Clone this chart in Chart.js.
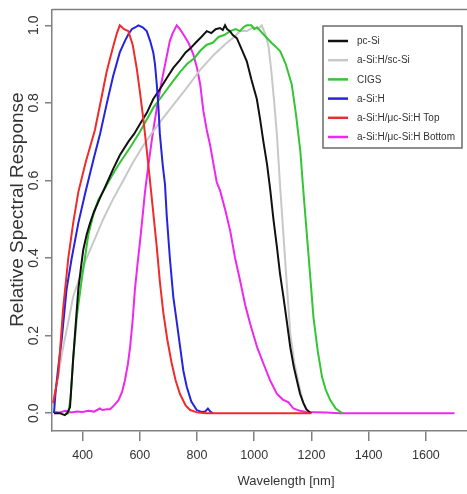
<!DOCTYPE html>
<html>
<head>
<meta charset="utf-8">
<script src="https://cdn.jsdelivr.net/npm/chart.js@4"></script>
<style>
  html, body { margin: 0; padding: 0; background: #fff; overflow: hidden; }
  #wrap { width: 467px; height: 494px; overflow: hidden; }
</style>
</head>
<body>
<div id="wrap"><canvas id="spectral" width="520" height="494"></canvas></div>
<script>
// SPECTRAL RESPONSE DATA  [wavelength nm, relative response]
const pcSi = [[300,0],[320,0],[338,-0.005],[346,0],[356,0.015],[367,0.14],[378,0.25],[385,0.32],[395,0.38],[402,0.42],
  [414,0.46],[426,0.49],[440,0.52],[461,0.555],[480,0.585],[507,0.63],[530,0.665],[560,0.70],[580,0.72],[600,0.745],
  [625,0.775],[647,0.81],[670,0.835],[695,0.865],[717,0.89],[740,0.91],[760,0.93],[776,0.94],[795,0.955],[815,0.97],
  [834,0.985],[850,0.98],[865,0.99],[880,0.993],[890,0.988],[898,1.0],[905,0.99],[915,0.985],[925,0.975],[939,0.967],
  [955,0.94],[974,0.907],[990,0.86],[1009,0.81],[1020,0.76],[1032,0.70],[1045,0.64],[1056,0.575],[1067,0.50],[1079,0.43],
  [1090,0.36],[1102,0.30],[1115,0.23],[1126,0.17],[1138,0.12],[1149,0.085],[1160,0.05],[1172,0.026],[1182,0.01],[1192,0.003],[1200,0]];

const aSiScSi = [[297,0.02],[315,0.10],[332,0.17],[350,0.235],[367,0.30],[390,0.35],[414,0.40],[440,0.445],[472,0.50],[505,0.55],
  [542,0.60],[575,0.645],[612,0.69],[640,0.72],[675,0.755],[717,0.795],[760,0.835],[811,0.885],[860,0.925],[904,0.955],
  [930,0.97],[951,0.985],[975,0.985],[997,0.995],[1012,0.99],[1026,1.0],[1040,0.975],[1050,0.945],[1060,0.88],[1070,0.80],
  [1079,0.72],[1090,0.59],[1102,0.46],[1114,0.33],[1126,0.205],[1140,0.13],[1155,0.077],[1170,0.03],[1184,0.008],[1200,0]];

const cigs = [[340,0],[350,0],[358,0.04],[367,0.14],[380,0.25],[396,0.34],[410,0.41],[420,0.46],[437,0.51],[455,0.55],
  [478,0.58],[501,0.61],[525,0.64],[566,0.685],[600,0.725],[647,0.787],[690,0.83],[715,0.855],[741,0.88],[765,0.90],
  [790,0.915],[812,0.935],[834,0.95],[855,0.955],[875,0.97],[895,0.975],[916,0.985],[935,0.99],[950,0.985],[962,0.995],
  [974,1.0],[990,1.0],[1000,0.99],[1010,0.995],[1032,0.977],[1060,0.955],[1075,0.945],[1091,0.933],[1110,0.90],[1131,0.848],
  [1146,0.77],[1161,0.676],[1172,0.57],[1184,0.46],[1196,0.35],[1207,0.247],[1222,0.16],[1237,0.093],[1250,0.06],[1266,0.033],
  [1285,0.012],[1301,0.003],[1310,0]];

const aSiH = [[300,0],[305,0.05],[315,0.12],[327,0.19],[344,0.32],[362,0.40],[385,0.49],[410,0.57],[440,0.66],[461,0.72],
  [485,0.80],[507,0.87],[530,0.93],[548,0.96],[560,0.977],[572,0.99],[585,0.995],[595,1.0],[610,0.995],[624,0.985],
  [636,0.96],[647,0.93],[653,0.90],[659,0.85],[665,0.79],[670,0.72],[680,0.64],[688,0.59],[694,0.51],[705,0.40],
  [717,0.30],[730,0.23],[741,0.17],[752,0.11],[764,0.068],[780,0.03],[799,0.008],[815,0.003],[828,0.004],[838,0.012],
  [846,0.004],[855,0]];

const microTop = [[297,0.026],[315,0.10],[332,0.27],[350,0.40],[367,0.49],[385,0.57],[410,0.645],[443,0.73],[465,0.81],[484,0.88],
  [505,0.94],[520,0.98],[530,1.0],[545,0.99],[560,0.985],[575,0.95],[589,0.89],[600,0.83],[612,0.76],[624,0.68],
  [641,0.56],[659,0.43],[670,0.34],[682,0.26],[696,0.19],[711,0.13],[725,0.085],[740,0.05],[760,0.02],[776,0.008],
  [800,0.002],[830,0],[1000,0],[1200,0]];

const microBottom = [[297,0.003],[320,0.002],[340,0.006],[360,0.002],[380,0.004],[400,0.003],[420,0.006],[440,0.004],[460,0.012],[470,0.008],
  [484,0.01],[496,0.01],[510,0.02],[525,0.033],[538,0.055],[548,0.085],[558,0.125],[566,0.17],[575,0.24],[583,0.32],
  [592,0.385],[601,0.445],[610,0.51],[618,0.57],[630,0.64],[645,0.72],[660,0.79],[675,0.85],[690,0.905],[705,0.96],
  [715,0.98],[729,1.0],[740,0.99],[752,0.977],[770,0.955],[787,0.925],[800,0.89],[811,0.848],[822,0.78],[834,0.73],
  [846,0.69],[858,0.64],[869,0.595],[881,0.573],[900,0.52],[916,0.47],[933,0.40],[951,0.34],[968,0.28],[986,0.23],
  [1010,0.17],[1032,0.128],[1055,0.085],[1079,0.05],[1100,0.035],[1120,0.028],[1137,0.012],[1160,0.006],[1180,0.003],[1250,0.002],
  [1300,0],[1400,0],[1500,0],[1600,0],[1700,0]];

const seriesNames = ['pc-Si', 'a-Si:H/sc-Si', 'CIGS', 'a-Si:H', 'a-Si:H/\u03bcc-Si:H Top', 'a-Si:H/\u03bcc-Si:H Bottom'];
const seriesData = [pcSi, aSiScSi, cigs, aSiH, microTop, microBottom];
const seriesColors = ['#111111', '#c8c8c8', '#33c633', '#2424e0', '#ee2c2c', '#ee28ee'];
const drawOrder = [3, 5, 4, 2, 1, 6]; // lower = drawn on top

const xTicks = [400, 600, 800, 1000, 1200, 1400, 1600];
const yTicks = [0, 0.2, 0.4, 0.6, 0.8, 1.0];

const axisGray = '#808080';
const textColor = '#333333';
Chart.defaults.font.family = "'Liberation Sans', Arial, sans-serif";

// boxed legend in the upper right, like the R plot
const boxLegend = {
  id: 'boxLegend',
  afterDraw(chart) {
    const ctx = chart.ctx;
    const area = chart.chartArea;
    ctx.save();
    // top edge of the plot box
    ctx.strokeStyle = axisGray;
    ctx.lineWidth = 1.5;
    ctx.beginPath();
    ctx.moveTo(area.left, area.top);
    ctx.lineTo(chart.width, area.top);
    ctx.stroke();

    const left = 323, top = 26, w = 139, h = 122;
    ctx.fillStyle = '#fff';
    ctx.fillRect(left, top, w, h);
    ctx.strokeStyle = '#6a6a6a';
    ctx.lineWidth = 1.5;
    ctx.strokeRect(left, top, w, h);

    ctx.font = "10px 'Liberation Sans', Arial, sans-serif";
    ctx.textBaseline = 'middle';
    chart.data.datasets.forEach((ds, i) => {
      const y = top + 15 + i * 19.2;
      ctx.strokeStyle = ds.borderColor;
      ctx.lineWidth = 2.5;
      ctx.beginPath();
      ctx.moveTo(left + 5, y);
      ctx.lineTo(left + 25, y);
      ctx.stroke();
      ctx.fillStyle = textColor;
      ctx.fillText(ds.label, left + 34, y + 0.5);
    });
    ctx.restore();
  }
};

new Chart(document.getElementById('spectral'), {
  type: 'line',
  data: {
    datasets: seriesNames.map((name, i) => ({
      label: name,
      data: seriesData[i].map(p => ({ x: p[0], y: p[1] })),
      borderColor: seriesColors[i],
      backgroundColor: seriesColors[i],
      borderWidth: 2,
      pointRadius: 0,
      tension: 0,
      fill: false,
      order: drawOrder[i]
    }))
  },
  options: {
    responsive: false,
    animation: false,
    layout: { padding: { top: 8, left: 0, right: 0, bottom: 0 } },
    plugins: {
      legend: { display: false },
      tooltip: { enabled: false }
    },
    scales: {
      x: {
        type: 'linear',
        min: 293,
        max: 1929,
        afterBuildTicks: s => { s.ticks = xTicks.map(v => ({ value: v })); },
        afterFit: s => { s.height = 63; },
        border: { display: true, color: axisGray, width: 1.5 },
        grid: { drawOnChartArea: false, tickLength: 10, color: axisGray, lineWidth: 1.5 },
        ticks: {
          color: textColor,
          font: { size: 12.5 },
          padding: 7,
          maxRotation: 0,
          autoSkip: false,
          callback: v => String(v)
        },
        title: {
          display: true,
          text: 'Wavelength [nm]',
          color: textColor,
          font: { size: 13 },
          padding: { top: 0, bottom: 5 }
        }
      },
      y: {
        min: -0.046,
        max: 1.041,
        afterBuildTicks: s => { s.ticks = yTicks.map(v => ({ value: v })); },
        afterFit: s => { s.width = 52; },
        border: { display: true, color: axisGray, width: 1.5 },
        grid: { drawOnChartArea: false, tickLength: 7, color: axisGray, lineWidth: 1.5 },
        ticks: {
          color: textColor,
          font: { size: 14 },
          minRotation: 90,
          maxRotation: 90,
          crossAlign: 'center',
          padding: 1,
          autoSkip: false,
          callback: v => v.toFixed(1)
        },
        title: {
          display: true,
          text: '    Relative Spectral Response',
          color: textColor,
          font: { size: 19 },
          padding: { top: 6, bottom: 0 }
        }
      }
    }
  },
  plugins: [boxLegend]
});
</script>
</body>
</html>
